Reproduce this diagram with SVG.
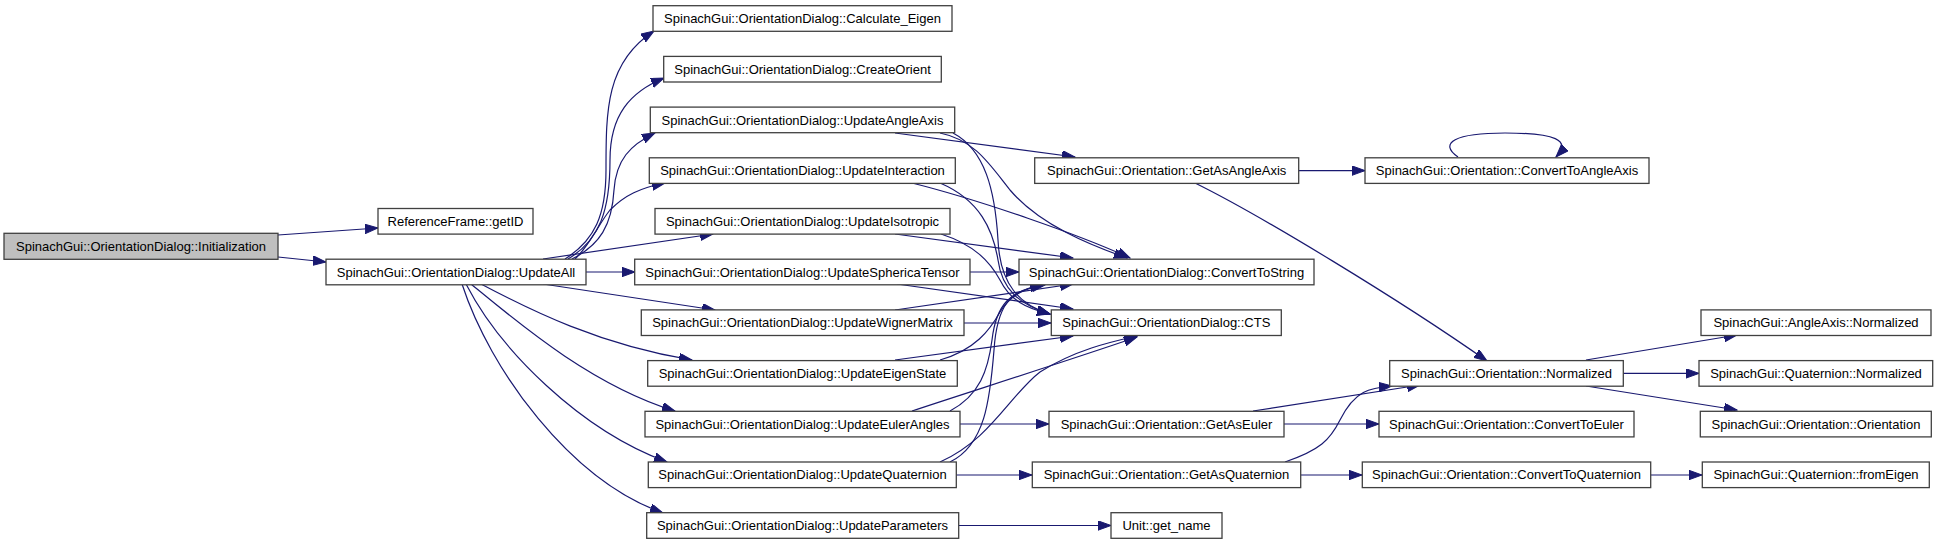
<svg xmlns="http://www.w3.org/2000/svg" width="1939" height="544" viewBox="0 0 1939 544">
<style>
.n rect{fill:#fff;stroke:#404040;stroke-width:1.3}
.n text{font-family:"Liberation Sans",Arial,sans-serif;font-size:13px;fill:#000;text-anchor:middle}
#edges path{fill:none;stroke:#191970;stroke-width:1.2;marker-end:url(#a)}
</style>
<defs>
<marker id="a" markerUnits="userSpaceOnUse" markerWidth="14" markerHeight="10" refX="13" refY="4.7" orient="auto" viewBox="0 0 14 10">
<path d="M0,0 L13,4.7 L0,9.4 z" fill="#191970" stroke="#191970" stroke-width="1"/>
</marker>
</defs>
<rect width="1939" height="544" fill="#fff"/>
<g id="edges">
<path d="M278,235 L378,228"/>
<path d="M278,257 L326,262"/>
<path d="M565,259 C595,240 606,215 606,170 C606,110 606,62 654,31"/>
<path d="M568,259 C600,240 610,210 610,160 C610,115 630,92 664,78"/>
<path d="M572,259 C600,245 612,225 614,190 C616,160 630,145 655,133"/>
<path d="M575,259 C590,245 598,225 610,210 C625,195 640,188 665,183"/>
<path d="M543,259 L713,234"/>
<path d="M586,272 L635,272"/>
<path d="M543,284 L715,310"/>
<path d="M481,284 C530,310 600,345 692,360"/>
<path d="M471,284 C515,320 590,385 675,411"/>
<path d="M466,284 C500,350 580,430 667,462"/>
<path d="M462,284 C490,370 570,480 663,513"/>
<path d="M895,133 L1075,157"/>
<path d="M940,133 C975,140 990,165 1010,190 C1040,225 1090,245 1127,258"/>
<path d="M953,133 C985,150 995,190 998,240 C1000,285 1020,305 1050,314"/>
<path d="M912,183 C980,200 1080,235 1130,258"/>
<path d="M940,183 C980,200 993,230 998,260 C1002,290 1020,305 1050,314"/>
<path d="M895,234 L1073,258"/>
<path d="M941,234 C975,245 990,262 1000,280 C1010,300 1025,308 1050,314"/>
<path d="M970,272 L1019,272"/>
<path d="M897,284 L1073,309"/>
<path d="M964,323 L1051,323"/>
<path d="M895,310 L1073,284"/>
<path d="M895,360 L1073,336"/>
<path d="M940,360 C975,350 990,330 1000,312 C1010,295 1025,288 1045,285"/>
<path d="M960,424 L1049,424"/>
<path d="M912,411 C960,395 1070,360 1137,337"/>
<path d="M950,411 C980,395 988,370 992,340 C996,305 1010,290 1043,285"/>
<path d="M956,475 L1032,475"/>
<path d="M940,462 C990,440 1010,395 1040,372 C1075,350 1110,342 1137,336"/>
<path d="M950,462 C985,445 990,400 994,350 C997,305 1010,290 1043,285"/>
<path d="M959,525.5 L1111,525.5"/>
<path d="M1299,170.6 L1365,170.6"/>
<path d="M1195,183 C1260,215 1400,300 1487,361"/>
<path d="M1458,157 C1438,143 1455,133 1505,133 C1555,133 1572,140 1556,157"/>
<path d="M1284,424 L1379,424"/>
<path d="M1253,411 L1420,385"/>
<path d="M1301,475 L1362,475"/>
<path d="M1285,462 C1320,450 1330,440 1340,420 C1355,390 1370,388 1392,386"/>
<path d="M1586,360 L1737,335"/>
<path d="M1623,373.4 L1699,373.4"/>
<path d="M1586,386 L1737,410"/>
<path d="M1651,475 L1702,475"/>
</g>
<g id="n0" class="n"><rect x="4" y="233.3" width="274" height="26" style="fill:#bfbfbf"/><text x="141" y="250.9">SpinachGui::OrientationDialog::Initialization</text></g>
<g id="n1" class="n"><rect x="378" y="208.5" width="155" height="25.6"/><text x="455.5" y="225.9">ReferenceFrame::getID</text></g>
<g id="n2" class="n"><rect x="326" y="259.2" width="260" height="25.6"/><text x="456" y="276.6">SpinachGui::OrientationDialog::UpdateAll</text></g>
<g id="n3" class="n"><rect x="653" y="5.7" width="299" height="25.6"/><text x="802.5" y="23.1">SpinachGui::OrientationDialog::Calculate_Eigen</text></g>
<g id="n4" class="n"><rect x="663.7" y="56.4" width="277.6" height="25.6"/><text x="802.5" y="73.8">SpinachGui::OrientationDialog::CreateOrient</text></g>
<g id="n5" class="n"><rect x="650.3" y="107.1" width="304.4" height="25.6"/><text x="802.5" y="124.5">SpinachGui::OrientationDialog::UpdateAngleAxis</text></g>
<g id="n6" class="n"><rect x="649.3" y="157.8" width="306" height="25.6"/><text x="802.5" y="175.2">SpinachGui::OrientationDialog::UpdateInteraction</text></g>
<g id="n7" class="n"><rect x="655" y="208.5" width="295" height="25.6"/><text x="802.5" y="225.9">SpinachGui::OrientationDialog::UpdateIsotropic</text></g>
<g id="n8" class="n"><rect x="634.7" y="259.2" width="335.3" height="25.6"/><text x="802.5" y="276.6">SpinachGui::OrientationDialog::UpdateSphericaTensor</text></g>
<g id="n9" class="n"><rect x="641.3" y="309.9" width="322.7" height="25.6"/><text x="802.5" y="327.3">SpinachGui::OrientationDialog::UpdateWignerMatrix</text></g>
<g id="n10" class="n"><rect x="647.7" y="360.6" width="309.6" height="25.6"/><text x="802.5" y="378">SpinachGui::OrientationDialog::UpdateEigenState</text></g>
<g id="n11" class="n"><rect x="645" y="411.3" width="315" height="25.6"/><text x="802.5" y="428.7">SpinachGui::OrientationDialog::UpdateEulerAngles</text></g>
<g id="n12" class="n"><rect x="648.3" y="462" width="308" height="25.6"/><text x="802.5" y="479.4">SpinachGui::OrientationDialog::UpdateQuaternion</text></g>
<g id="n13" class="n"><rect x="646.7" y="512.7" width="312" height="25.6"/><text x="802.5" y="530.1">SpinachGui::OrientationDialog::UpdateParameters</text></g>
<g id="n14" class="n"><rect x="1034.7" y="157.8" width="264" height="25.6"/><text x="1166.7" y="175.2">SpinachGui::Orientation::GetAsAngleAxis</text></g>
<g id="n15" class="n"><rect x="1019" y="259.2" width="295" height="25.6"/><text x="1166.5" y="276.6">SpinachGui::OrientationDialog::ConvertToString</text></g>
<g id="n16" class="n"><rect x="1051.3" y="309.9" width="230" height="25.6"/><text x="1166.3" y="327.3">SpinachGui::OrientationDialog::CTS</text></g>
<g id="n17" class="n"><rect x="1049" y="411.3" width="235" height="25.6"/><text x="1166.5" y="428.7">SpinachGui::Orientation::GetAsEuler</text></g>
<g id="n18" class="n"><rect x="1032.3" y="462" width="268.4" height="25.6"/><text x="1166.5" y="479.4">SpinachGui::Orientation::GetAsQuaternion</text></g>
<g id="n19" class="n"><rect x="1111" y="512.7" width="111" height="25.6"/><text x="1166.5" y="530.1">Unit::get_name</text></g>
<g id="n20" class="n"><rect x="1365" y="157.8" width="284" height="25.6"/><text x="1507" y="175.2">SpinachGui::Orientation::ConvertToAngleAxis</text></g>
<g id="n21" class="n"><rect x="1389.7" y="360.6" width="233.6" height="25.6"/><text x="1506.5" y="378">SpinachGui::Orientation::Normalized</text></g>
<g id="n22" class="n"><rect x="1379" y="411.3" width="255" height="25.6"/><text x="1506.5" y="428.7">SpinachGui::Orientation::ConvertToEuler</text></g>
<g id="n23" class="n"><rect x="1362.3" y="462" width="288.4" height="25.6"/><text x="1506.5" y="479.4">SpinachGui::Orientation::ConvertToQuaternion</text></g>
<g id="n24" class="n"><rect x="1701" y="309.9" width="230" height="25.6"/><text x="1816" y="327.3">SpinachGui::AngleAxis::Normalized</text></g>
<g id="n25" class="n"><rect x="1699" y="360.6" width="233.7" height="25.6"/><text x="1816" y="378">SpinachGui::Quaternion::Normalized</text></g>
<g id="n26" class="n"><rect x="1700.3" y="411.3" width="231" height="25.6"/><text x="1816" y="428.7">SpinachGui::Orientation::Orientation</text></g>
<g id="n27" class="n"><rect x="1702.3" y="462" width="227" height="25.6"/><text x="1816" y="479.4">SpinachGui::Quaternion::fromEigen</text></g>
</svg>
